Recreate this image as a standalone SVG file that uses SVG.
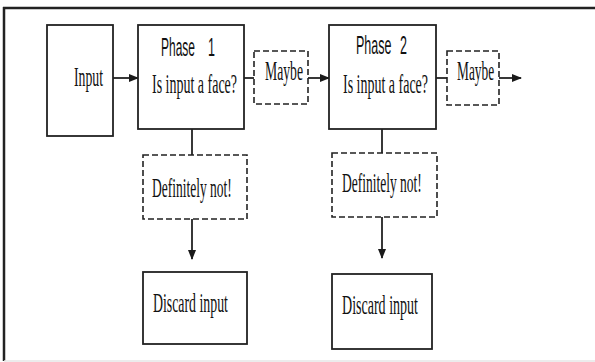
<svg xmlns="http://www.w3.org/2000/svg" width="595" height="362" viewBox="0 0 595 362">
  <defs>
    <marker id="arrow" markerWidth="10" markerHeight="8" refX="9" refY="4" orient="auto" markerUnits="userSpaceOnUse">
      <path d="M0,0 L10,4 L0,8 Z" fill="#1a1a1a"/>
    </marker>
    <style>
      .box { fill: #ffffff; stroke: #222; stroke-width: 1.8; }
      .dash { fill: #ffffff; stroke: #222; stroke-width: 1.6; stroke-dasharray: 6 3; }
      .serif { font-family: "Liberation Serif", "Times New Roman", serif; font-size: 27px; fill: #111; }
      .sans { font-family: "Liberation Sans", Arial, sans-serif; font-size: 25px; fill: #111; }
      .link { fill: none; stroke: #222; stroke-width: 1.8; }
      .frame { fill: none; stroke: #222; stroke-width: 2.5; }
    </style>
  </defs>

  <rect x="0" y="0" width="595" height="362" fill="#ffffff"/>

  <!-- outer frame -->
  <g id="frame">
    <line class="frame" x1="3" y1="8" x2="595" y2="8"/>
    <line class="frame" x1="4" y1="7" x2="4" y2="361"/>
    <line x1="4" y1="361" x2="595" y2="361" stroke="#e6e6e6" stroke-width="1.5"/>
  </g>

  <!-- connectors -->
  <g id="connectors">
    <line class="link" x1="113" y1="78" x2="138" y2="78" marker-end="url(#arrow)"/>
    <line class="link" x1="244" y1="78" x2="254" y2="78"/>
    <line class="link" x1="308" y1="78" x2="329" y2="78" marker-end="url(#arrow)"/>
    <line class="link" x1="436" y1="78" x2="447" y2="78"/>
    <line class="link" x1="499" y1="78" x2="521" y2="78" marker-end="url(#arrow)"/>
    <line class="link" x1="192" y1="129" x2="192" y2="155"/>
    <line class="link" x1="192" y1="219" x2="192" y2="259" marker-end="url(#arrow)"/>
    <line class="link" x1="382" y1="129" x2="382" y2="153"/>
    <line class="link" x1="382" y1="217" x2="382" y2="258" marker-end="url(#arrow)"/>
  </g>

  <!-- labels use a narrow horizontal scale for the condensed lettering -->
  <g id="input">
    <rect class="box" x="47" y="25" width="66" height="111"/>
    <text class="serif" transform="translate(74 86) scale(0.51 1)">Input</text>
  </g>

  <g id="phase1">
    <rect class="box" x="138" y="25" width="106" height="104"/>
    <text class="sans" transform="translate(161 56) scale(0.48 1)">Phase</text>
    <text class="sans" transform="translate(208 56) scale(0.5 1)">1</text>
    <text class="serif" transform="translate(152 93) scale(0.518 1)">Is input a face?</text>
  </g>

  <g id="maybe1">
    <rect class="dash" x="254" y="51" width="54" height="53"/>
    <text class="serif" transform="translate(265 80) scale(0.507 1)">Maybe</text>
  </g>

  <g id="phase2">
    <rect class="box" x="329" y="25" width="107" height="104"/>
    <text class="sans" transform="translate(356 54) scale(0.5 1)">Phase</text>
    <text class="sans" transform="translate(400 54) scale(0.5 1)">2</text>
    <text class="serif" transform="translate(343 93) scale(0.518 1)">Is input a face?</text>
  </g>

  <g id="maybe2">
    <rect class="dash" x="447" y="51" width="52" height="54"/>
    <text class="serif" transform="translate(457 80) scale(0.495 1)">Maybe</text>
  </g>

  <g id="reject1">
    <rect class="dash" x="143" y="155" width="104" height="64"/>
    <text class="serif" transform="translate(152 197) scale(0.5 1)">Definitely not!</text>
  </g>

  <g id="reject2">
    <rect class="dash" x="332" y="153" width="105" height="64"/>
    <text class="serif" transform="translate(342 192) scale(0.5 1)">Definitely not!</text>
  </g>

  <g id="discard1">
    <rect class="box" x="143" y="272" width="104" height="72"/>
    <text class="serif" transform="translate(153 312) scale(0.513 1)">Discard input</text>
  </g>

  <g id="discard2">
    <rect class="box" x="332" y="274" width="100" height="75"/>
    <text class="serif" transform="translate(342 314) scale(0.52 1)">Discard input</text>
  </g>
</svg>
